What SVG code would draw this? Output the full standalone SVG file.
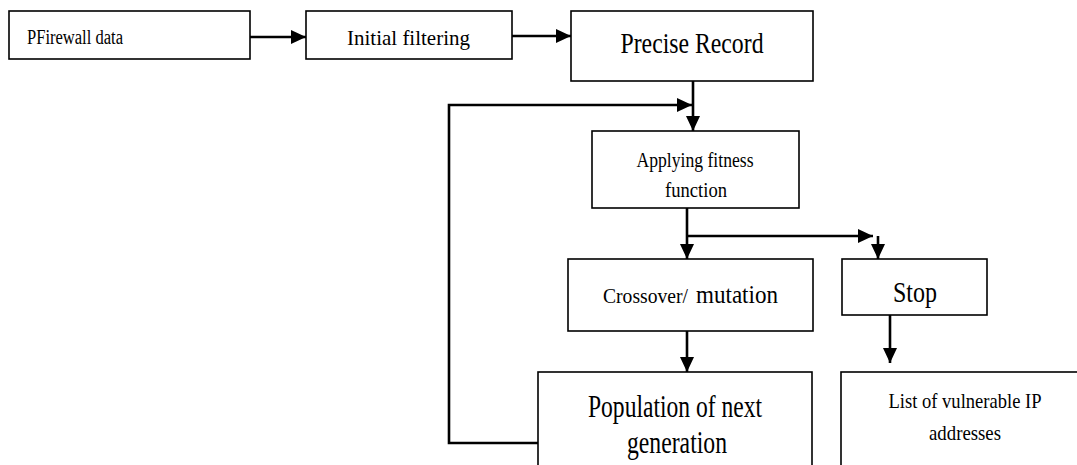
<svg xmlns="http://www.w3.org/2000/svg" width="1077" height="465" viewBox="0 0 1077 465">
<defs>
<marker id="arr" markerUnits="userSpaceOnUse" markerWidth="16" markerHeight="16" refX="15" refY="8" orient="auto">
<path d="M0,1 L15,8 L0,15 Z" fill="#000"/>
</marker>
<style>
.box{fill:#fff;stroke:#000;stroke-width:1.6}
.con{fill:none;stroke:#000;stroke-width:2.6}
.c{text-anchor:middle}
text{font-family:'Liberation Serif','DejaVu Serif','Times New Roman',serif}
</style>
</defs>
<rect width="1077" height="465" fill="#fff"/>
<g id="connectors">
<line class="con" x1="250" y1="37" x2="306" y2="37" marker-end="url(#arr)"/>
<line class="con" x1="512" y1="36" x2="571" y2="36" marker-end="url(#arr)"/>
<line class="con" x1="693" y1="81" x2="693" y2="131" marker-end="url(#arr)"/>
<path class="con" d="M539,443 H449 V105 H692" marker-end="url(#arr)"/>
<line class="con" x1="687" y1="208" x2="687" y2="259" marker-end="url(#arr)"/>
<line class="con" x1="687" y1="236" x2="873" y2="236" marker-end="url(#arr)"/>
<line class="con" x1="878" y1="236" x2="878" y2="259" marker-end="url(#arr)"/>
<line class="con" x1="890" y1="315" x2="890" y2="363" marker-end="url(#arr)"/>
<line class="con" x1="687" y1="331" x2="687" y2="372" marker-end="url(#arr)"/>
</g>
<g fill="#000">
<g id="n1">
<rect class="box" x="9" y="11" width="241" height="48"/>
<text x="27" y="44" font-size="20" textLength="96" lengthAdjust="spacingAndGlyphs">PFirewall data</text>
</g>
<g id="n2">
<rect class="box" x="306" y="11" width="206" height="48"/>
<text x="347" y="45" font-size="21" textLength="123" lengthAdjust="spacingAndGlyphs">Initial filtering</text>
</g>
<g id="n3">
<rect class="box" x="571" y="11" width="242" height="70"/>
<text class="c" x="692" y="53" font-size="30" textLength="143" lengthAdjust="spacingAndGlyphs">Precise Record</text>
</g>
<g id="n4">
<rect class="box" x="592" y="131" width="207" height="77"/>
<text class="c" x="695" y="167" font-size="20" textLength="117" lengthAdjust="spacingAndGlyphs">Applying fitness</text>
<text class="c" x="696" y="197" font-size="20" textLength="62" lengthAdjust="spacingAndGlyphs">function</text>
</g>
<g id="n5">
<rect class="box" x="568" y="259" width="245" height="72"/>
<text x="603" y="303" font-size="22" textLength="85" lengthAdjust="spacingAndGlyphs">Crossover/</text>
<text x="696" y="303" font-size="26" textLength="82" lengthAdjust="spacingAndGlyphs">mutation</text>
</g>
<g id="n6">
<rect class="box" x="842" y="259" width="145" height="56"/>
<text class="c" x="915" y="302" font-size="30" textLength="44" lengthAdjust="spacingAndGlyphs">Stop</text>
</g>
<g id="n7">
<rect class="box" x="538" y="372" width="274" height="110"/>
<text class="c" x="675" y="417" font-size="31" textLength="174" lengthAdjust="spacingAndGlyphs">Population of next</text>
<text class="c" x="677" y="453" font-size="31" textLength="100" lengthAdjust="spacingAndGlyphs">generation</text>
</g>
<g id="n8">
<rect class="box" x="841" y="372" width="260" height="110"/>
<text class="c" x="965" y="408" font-size="22" textLength="153" lengthAdjust="spacingAndGlyphs">List of vulnerable IP</text>
<text class="c" x="965" y="440" font-size="22" textLength="72" lengthAdjust="spacingAndGlyphs">addresses</text>
</g>
</g>
</svg>
